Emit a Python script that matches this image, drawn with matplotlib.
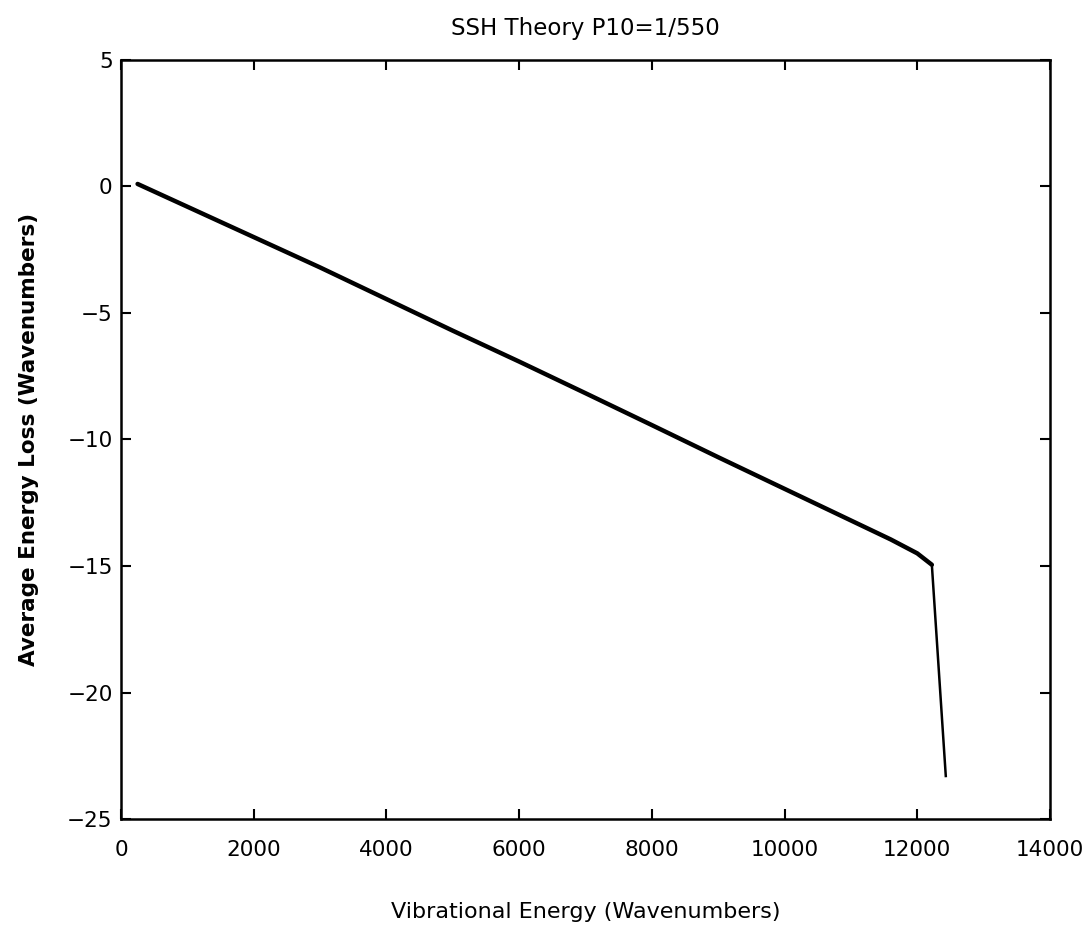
import numpy as np
import matplotlib.pyplot as plt

plt.rcParams['font.family'] = 'DejaVu Sans'
plt.rcParams['xtick.direction'] = 'in'
plt.rcParams['ytick.direction'] = 'in'
plt.rcParams['xtick.major.size'] = 7
plt.rcParams['ytick.major.size'] = 7
plt.rcParams['xtick.major.width'] = 1.5
plt.rcParams['ytick.major.width'] = 1.5
plt.rcParams['axes.linewidth'] = 1.8
plt.rcParams['xtick.top'] = True
plt.rcParams['ytick.right'] = True

# values
energy = [250, 1000, 2000, 3000, 4000, 5000, 6000, 7000, 8000, 9000,
          10000, 11000, 11600, 12000, 12220, 12430]
loss = [0.1, -0.8, -2.0, -3.2, -4.45, -5.7, -6.92, -8.17, -9.43, -10.7,
        -11.95, -13.2, -13.95, -14.5, -14.95, -23.3]

xticks = [0, 2000, 4000, 6000, 8000, 10000, 12000, 14000]
yticks = [-25, -20, -15, -10, -5, 0, 5]

fig = plt.figure(figsize=(10.92, 9.34), dpi=100)
ax = fig.add_axes([0.1108, 0.1231, 0.8507, 0.8127])

# thick part up to the kink, thin final drop
ax.plot(energy[:-1], loss[:-1], color='k', lw=3.2, solid_capstyle='round')
ax.plot(energy[-2:], loss[-2:], color='k', lw=1.8)

ax.set_xlim(0, 14000)
ax.set_ylim(-25, 5)
ax.set_xticks(xticks)
ax.set_yticks(yticks)
ax.set_xticklabels([str(t) for t in xticks])
ax.set_yticklabels([str(t).replace('-', '\u2212') for t in yticks])
ax.tick_params(labelsize=15.5)
ax.tick_params(axis='x', pad=15)
ax.tick_params(axis='y', pad=6)

ax.set_title('SSH Theory P10=1/550', fontsize=16.5, pad=18)
ax.set_xlabel('Vibrational Energy (Wavenumbers)', fontsize=16, labelpad=30)
ax.set_ylabel('Average Energy Loss (Wavenumbers)', fontsize=15.5,
              fontweight='bold', labelpad=20)

plt.savefig('out.png', dpi=100)
